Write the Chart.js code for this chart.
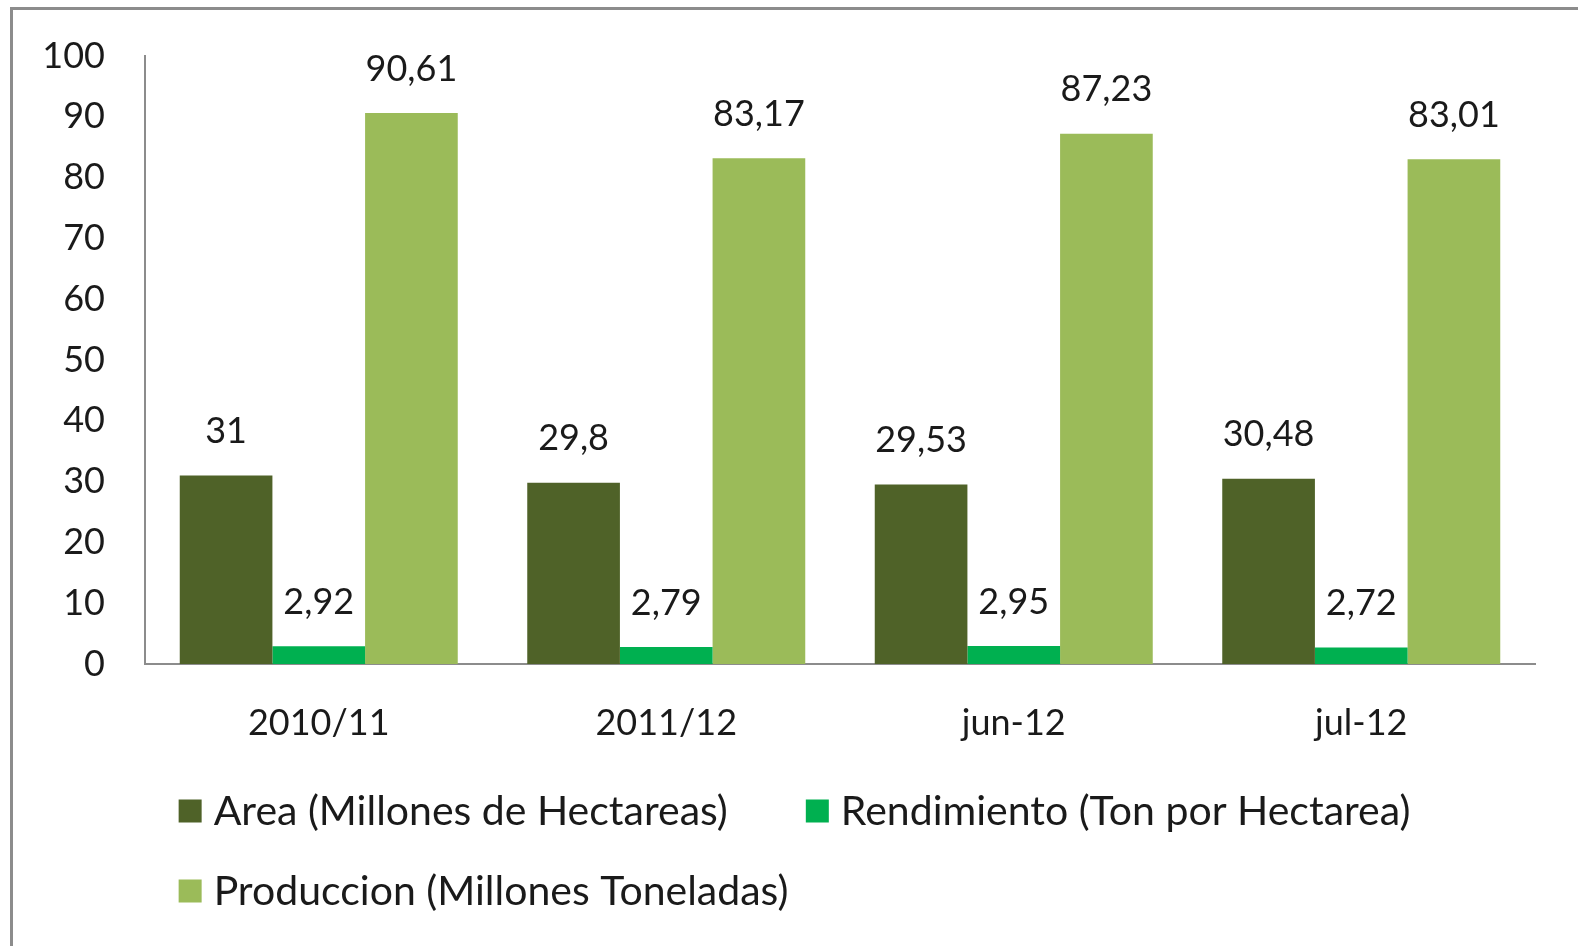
<!DOCTYPE html>
<html>
<head>
<meta charset="utf-8">
<script src="https://cdn.jsdelivr.net/npm/chart.js@4.4.0/dist/chart.umd.min.js"></script>
<style>
  html, body { margin: 0; padding: 0; background: #fff; overflow: hidden; }
  #marco { position: absolute; left: 10px; top: 7px; width: 1700px; height: 1100px; border: 3px solid #8c8c8c; }
  #lienzo { position: absolute; left: 0; top: 0; }
</style>
</head>
<body>
<div id="marco"></div>
<canvas id="lienzo" width="1578" height="946"></canvas>
<script>
const categorias = ['2010/11', '2011/12', 'jun-12', 'jul-12'];
const area = [31, 29.8, 29.53, 30.48];
const rendimiento = [2.92, 2.79, 2.95, 2.72];
const produccion = [90.61, 83.17, 87.23, 83.01];
const nombres = ['Area (Millones de Hectareas)', 'Rendimiento (Ton por Hectarea)', 'Produccion (Millones Toneladas)'];
const colores = ['#4F6228', '#00B050', '#9BBB59'];
const ejeY = { min: 0, max: 100, paso: 10 };

const FUENTE = '36px Lato';
const FUENTE_LEYENDA = '41px Lato';
const TEXTO = '#1a1a1a';

// valores encima de cada barra, con coma decimal
const etiquetas = {
  id: 'etiquetas',
  afterDatasetsDraw(chart) {
    const ctx = chart.ctx;
    ctx.save();
    ctx.font = FUENTE;
    ctx.fillStyle = TEXTO;
    ctx.textAlign = 'center';
    ctx.textBaseline = 'middle';
    chart.data.datasets.forEach((ds, i) => {
      chart.getDatasetMeta(i).data.forEach((bar, j) => {
        ctx.fillText(String(ds.data[j]).replace('.', ','), bar.x, bar.y - 44);
      });
    });
    ctx.restore();
  }
};

// leyenda estilo Excel: fila 1 centrada, fila 2 alineada a la izquierda
const leyenda = {
  id: 'leyenda',
  afterDraw(chart) {
    const ctx = chart.ctx;
    const filas = [[0, 1], [2]];
    const caja = 23, hueco = 12, separacion = 78;
    ctx.save();
    ctx.font = FUENTE_LEYENDA;
    ctx.textBaseline = 'middle';
    ctx.textAlign = 'left';
    const ancho = i => caja + hueco + ctx.measureText(chart.data.datasets[i].label).width;
    const anchoFila1 = filas[0].reduce((s, i) => s + ancho(i), 0) + separacion;
    const x0 = (11 + chart.width) / 2 - anchoFila1 / 2;
    filas.forEach((fila, f) => {
      const y = 811 + f * 80;
      let x = x0;
      fila.forEach(i => {
        const ds = chart.data.datasets[i];
        ctx.fillStyle = ds.backgroundColor;
        ctx.fillRect(x, y - caja / 2, caja, caja);
        ctx.fillStyle = TEXTO;
        ctx.fillText(ds.label, x + caja + hueco, y + 1);
        x += ancho(i) + separacion;
      });
    });
    ctx.restore();
  }
};

new Chart(document.getElementById('lienzo'), {
  type: 'bar',
  data: {
    labels: categorias,
    datasets: [
      { label: nombres[0], data: area, backgroundColor: colores[0] },
      { label: nombres[1], data: rendimiento, backgroundColor: colores[1] },
      { label: nombres[2], data: produccion, backgroundColor: colores[2] }
    ]
  },
  options: {
    responsive: false,
    animation: false,
    layout: { padding: { top: 56, right: 43, left: 0, bottom: 0 } },
    datasets: { bar: { categoryPercentage: 0.8, barPercentage: 1.0 } },
    plugins: { legend: { display: false }, tooltip: { enabled: false } },
    scales: {
      x: {
        grid: { display: false },
        border: { display: true, color: '#8c8c8c', width: 2 },
        ticks: { font: { family: 'Lato', size: 36 }, color: TEXTO, padding: 30 },
        afterFit(s) { s.height = 282; }
      },
      y: {
        min: ejeY.min,
        max: ejeY.max,
        grid: { display: false },
        border: { display: true, color: '#8c8c8c', width: 2 },
        ticks: { stepSize: ejeY.paso, font: { family: 'Lato', size: 36 }, color: TEXTO, padding: 32 },
        afterFit(s) { s.width = 145; }
      }
    }
  },
  plugins: [etiquetas, leyenda]
});
</script>
</body>
</html>
